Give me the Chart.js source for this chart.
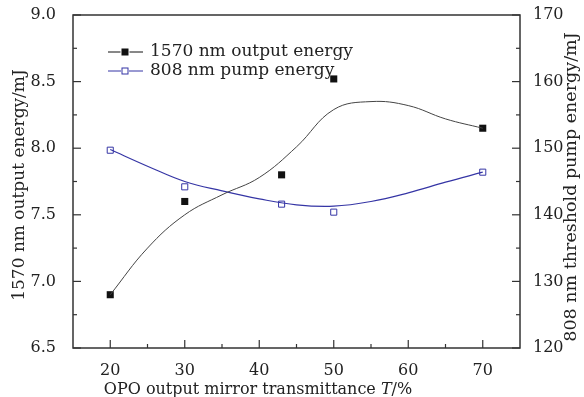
<!DOCTYPE html>
<html>
<head>
<meta charset="utf-8">
<script src="https://cdn.jsdelivr.net/npm/chart.js@4/dist/chart.umd.min.js"></script>
<style>
  html, body { margin: 0; padding: 0; background: #fff; }
  #wrap { width: 584px; height: 397px; }
</style>
</head>
<body>
<div id="wrap"><canvas id="chart"></canvas></div>
<script>
// measured points
const transmittance = [20, 30, 43, 50, 70];
const outputEnergy = [6.90, 7.60, 7.80, 8.52, 8.15];
const pumpEnergy = [149.7, 144.2, 141.6, 140.4, 146.4];

// fitted curves
const fitX = [20, 25, 30, 35, 40, 45, 50, 55, 60, 65, 70];
const fitOut = [6.90, 7.25, 7.50, 7.65, 7.78, 8.01, 8.29, 8.35, 8.32, 8.22, 8.15];
const fitPump = [149.8, 147.3, 145.0, 143.6, 142.4, 141.5, 141.3, 142.0, 143.3, 144.9, 146.4];

// axis ticks
const xTicks = [20, 30, 40, 50, 60, 70];
const leftTicks = [6.5, 7.0, 7.5, 8.0, 8.5, 9.0];
const rightTicks = [120, 130, 140, 150, 160, 170];

const labels = ["1570 nm output energy", "808 nm pump energy"];
const xTitle = ["OPO output mirror transmittance ", "T", "/%"];
const leftTitle = "1570 nm output energy/mJ";
const rightTitle = "808 nm threshold pump energy/mJ";

const BLACK = "#111";
const BLUE = "#3535a5";
const SERIF = "'DejaVu Serif', serif";

const pts = (xs, ys) => xs.map((x, i) => ({ x: x, y: ys[i] }));
const mids = arr => arr.slice(1).map((v, i) => (v + arr[i]) / 2);

const framePlugin = {
    id: "frame",
    afterDraw(chart) {
        const { ctx, chartArea: a, scales } = chart;
        ctx.save();
        ctx.strokeStyle = "#333";
        ctx.lineWidth = 1.5;
        ctx.strokeRect(a.left, a.top, a.right - a.left, a.bottom - a.top);

        ctx.lineWidth = 1.2;
        const line = (x1, y1, x2, y2) => {
            ctx.beginPath(); ctx.moveTo(x1, y1); ctx.lineTo(x2, y2); ctx.stroke();
        };
        xTicks.forEach(v => { const p = scales.x.getPixelForValue(v); line(p, a.bottom, p, a.bottom - 8); });
        mids(xTicks).forEach(v => { const p = scales.x.getPixelForValue(v); line(p, a.bottom, p, a.bottom - 4); });
        leftTicks.forEach(v => { const p = scales.y.getPixelForValue(v); line(a.left, p, a.left + 8, p); });
        mids(leftTicks).forEach(v => { const p = scales.y.getPixelForValue(v); line(a.left, p, a.left + 4, p); });
        rightTicks.forEach(v => { const p = scales.y1.getPixelForValue(v); line(a.right, p, a.right - 8, p); });
        mids(rightTicks).forEach(v => { const p = scales.y1.getPixelForValue(v); line(a.right, p, a.right - 4, p); });

        // axis titles
        ctx.fillStyle = "#222";
        ctx.textAlign = "center";
        ctx.textBaseline = "middle";
        ctx.font = "17px " + SERIF;
        ctx.save();
        ctx.translate(20, 185);
        ctx.rotate(-Math.PI / 2);
        ctx.fillText(leftTitle, 0, 0);
        ctx.restore();
        ctx.save();
        ctx.font = "17.5px " + SERIF;
        ctx.translate(571, 187);
        ctx.rotate(-Math.PI / 2);
        ctx.fillText(rightTitle, 0, 0);
        ctx.restore();

        // x title with italic T
        const fonts = ["16px " + SERIF, "italic 16px " + SERIF, "16px " + SERIF];
        let widths = xTitle.map((s, i) => { ctx.font = fonts[i]; return ctx.measureText(s).width; });
        let x = 258 - widths.reduce((s, w) => s + w, 0) / 2;
        ctx.textAlign = "left";
        ctx.textBaseline = "alphabetic";
        xTitle.forEach((s, i) => { ctx.font = fonts[i]; ctx.fillText(s, x, 394); x += widths[i]; });

        // legend
        const legend = [
            { color: BLACK, fill: BLACK, y: 52 },
            { color: BLUE, fill: "#fff", y: 71 }
        ];
        ctx.font = "17px " + SERIF;
        ctx.textBaseline = "middle";
        legend.forEach((l, i) => {
            ctx.strokeStyle = l.color;
            ctx.lineWidth = 1;
            line(108, l.y, 143, l.y);
            const s = i === 0 ? 7 : 6;
            ctx.fillStyle = "#fff";
            ctx.fillRect(125 - s / 2 - 1, l.y - s / 2 - 1, s + 2, s + 2);
            ctx.fillStyle = l.fill;
            ctx.fillRect(125 - s / 2, l.y - s / 2, s, s);
            if (i === 1) ctx.strokeRect(125 - s / 2, l.y - s / 2, s, s);
            ctx.fillStyle = "#222";
            ctx.fillText(labels[i], 150, l.y);
        });
        ctx.restore();
    }
};

// fixed axis sizes, no label overhang padding
const fixSize = (w, h) => scale => {
    if (w) scale.width = w;
    if (h) scale.height = h;
    scale.paddingTop = 0;
    scale.paddingBottom = 0;
    scale.paddingLeft = 0;
    scale.paddingRight = 0;
};

new Chart(document.getElementById("chart"), {
    type: "scatter",
    data: {
        datasets: [
            {
                label: labels[0] + " fit",
                data: pts(fitX, fitOut),
                showLine: true,
                borderColor: "#444",
                borderWidth: 1,
                pointRadius: 0,
                tension: 0.4,
                yAxisID: "y"
            },
            {
                label: labels[1] + " fit",
                data: pts(fitX, fitPump),
                showLine: true,
                borderColor: BLUE,
                borderWidth: 1.2,
                pointRadius: 0,
                tension: 0.4,
                yAxisID: "y1"
            },
            {
                label: labels[0],
                data: pts(transmittance, outputEnergy),
                pointStyle: "rect",
                pointRadius: 5,
                backgroundColor: BLACK,
                borderColor: BLACK,
                borderWidth: 0,
                yAxisID: "y"
            },
            {
                label: labels[1],
                data: pts(transmittance, pumpEnergy),
                pointStyle: "rect",
                pointRadius: 4.3,
                backgroundColor: "#fff",
                borderColor: BLUE,
                borderWidth: 1,
                yAxisID: "y1"
            }
        ]
    },
    options: {
        responsive: true,
        maintainAspectRatio: false,
        animation: false,
        layout: { padding: { top: 15, left: 0, right: 0, bottom: 0 } },
        plugins: { legend: { display: false }, tooltip: { enabled: false } },
        scales: {
            x: {
                type: "linear",
                min: 15,
                max: 75,
                afterBuildTicks: s => { s.ticks = xTicks.map(v => ({ value: v })); },
                afterFit: fixSize(null, 49),
                grid: { display: false },
                border: { display: false },
                ticks: {
                    padding: 5,
                    color: "#222",
                    font: { family: SERIF, size: 16 },
                    maxRotation: 0
                }
            },
            y: {
                position: "left",
                min: 6.5,
                max: 9.0,
                afterBuildTicks: s => { s.ticks = leftTicks.map(v => ({ value: v })); },
                afterFit: fixSize(73, null),
                grid: { display: false },
                border: { display: false },
                ticks: {
                    padding: 9,
                    color: "#222",
                    font: { family: SERIF, size: 16 },
                    callback: v => v.toFixed(1)
                }
            },
            y1: {
                position: "right",
                min: 120,
                max: 170,
                afterBuildTicks: s => { s.ticks = rightTicks.map(v => ({ value: v })); },
                afterFit: fixSize(64, null),
                grid: { display: false },
                border: { display: false },
                ticks: {
                    padding: 5,
                    color: "#222",
                    font: { family: SERIF, size: 16 }
                }
            }
        }
    },
    plugins: [framePlugin]
});
</script>
</body>
</html>
